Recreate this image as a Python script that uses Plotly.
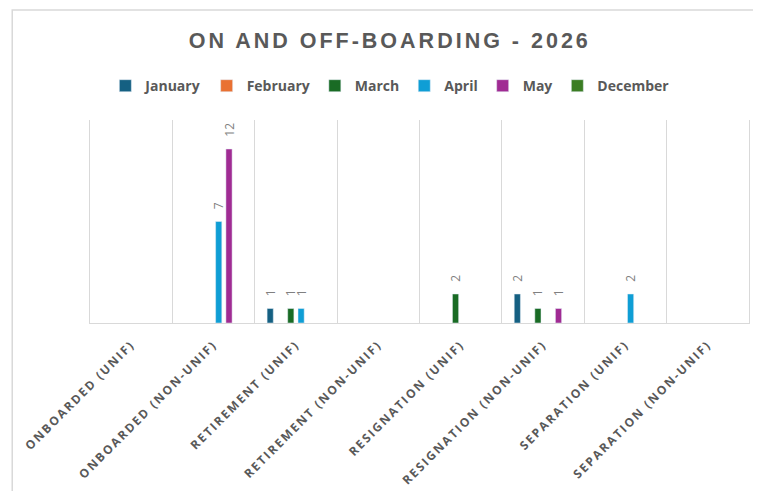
import plotly.graph_objects as go

categories = [
    "ONBOARDED (UNIF)", "ONBOARDED (NON-UNIF)", "RETIREMENT (UNIF)",
    "RETIREMENT (NON-UNIF)", "RESIGNATION (UNIF)", "RESIGNATION (NON-UNIF)",
    "SEPARATION (UNIF)", "SEPARATION (NON-UNIF)",
]
january = [None, None, 1, None, None, 2, None, None]
february = [None, None, None, None, None, None, None, None]
march = [None, None, 1, None, 2, 1, None, None]
april = [None, 7, 1, None, None, None, 2, None]
may = [None, 12, None, None, None, 1, None, None]
december = [None, None, None, None, None, None, None, None]

series = [
    ("January", january, "#156082"),
    ("February", february, "#E97132"),
    ("March", march, "#196B24"),
    ("April", april, "#0F9ED5"),
    ("May", may, "#A02B93"),
    ("December", december, "#3B7D23"),
]

PAD = "\u00a0\u00a0\u00a0"

fig = go.Figure()
for name, vals, color in series:
    fig.add_trace(go.Bar(
        name=name, x=categories, y=vals, marker_color=color,
        text=[("" if v is None else PAD + str(v)) for v in vals],
        textposition="outside", textangle=-90, constraintext="none",
        textfont=dict(size=12, color="#808080", family="Open Sans"),
        cliponaxis=False,
    ))

grey = "#595959"
fig.update_layout(
    width=753, height=483,
    margin=dict(l=82, r=12, t=112, b=168),
    paper_bgcolor="white", plot_bgcolor="white",
    barmode="group", bargap=0.25, bargroupgap=0.4,
    title=dict(text="<b>ON AND OFF-BOARDING - 2026</b>", x=0.507, xref="container",
               xanchor="center", y=0.933, yanchor="middle",
               font=dict(size=21.5, color=grey, family="Liberation Sans")),
    legend=dict(orientation="h", x=0.455, xanchor="center", y=1.167, yanchor="middle",
                font=dict(size=14, color=grey, family="Open Sans", weight="bold"),
                itemwidth=30, traceorder="normal"),
    showlegend=True,
)
fig.update_xaxes(
    tickangle=-45, tickson="boundaries", showgrid=True, gridcolor="#D9D9D9",
    gridwidth=1, ticks="", showline=True, linecolor="#D9D9D9", linewidth=1,
    tickfont=dict(size=12, color=grey, family="Open Sans", weight="bold"),
    ticklabelstandoff=9, fixedrange=True,
)
fig.update_yaxes(
    range=[0, 14], showgrid=False, showticklabels=False, zeroline=False,
    showline=True, mirror=True, linecolor="#D9D9D9", ticks="",
)
fig.add_shape(type="rect", xref="paper", yref="paper",
              x0=-0.118, x1=1.2, y0=-0.95, y1=1.542,
              line=dict(color="#D9D9D9", width=1.5), layer="below")

post = """
var gd = document.getElementById('{plot_id}');
function ls(){
  gd.querySelectorAll('.xtick text').forEach(function(t){t.style.letterSpacing='1.9px';});
  gd.querySelectorAll('text.gtitle').forEach(function(t){t.style.letterSpacing='3px';});
}
ls();
if (gd.on) { gd.on('plotly_afterplot', ls); }
setTimeout(ls, 30);
"""

fig.write_html("out.html", post_script=post)
